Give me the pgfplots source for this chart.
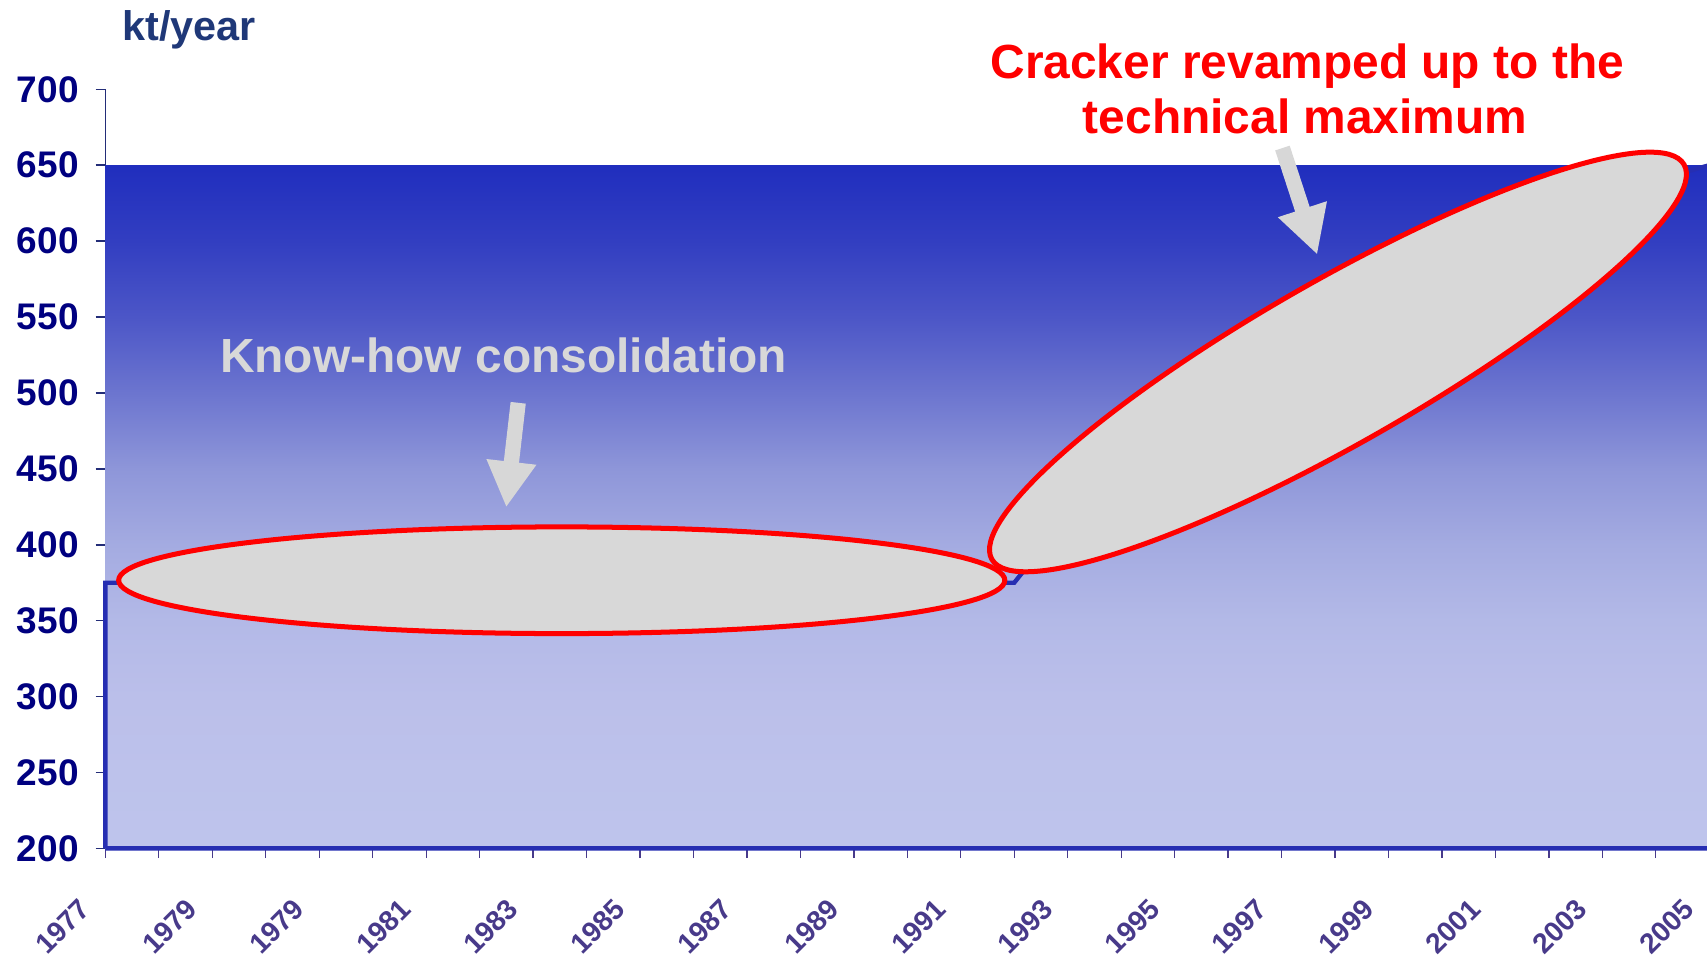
\documentclass[border=0pt]{standalone}
\usepackage{pgfplots}
\pgfplotsset{compat=1.18}
\usepackage{fontspec}
\setmainfont{Liberation Sans}
\usetikzlibrary{arrows.meta}
\definecolor{navyc}{RGB}{0,0,128}
\definecolor{axisc}{RGB}{35,45,120}
\definecolor{unitc}{RGB}{31,56,120}
\definecolor{yearc}{RGB}{72,58,138}
\definecolor{serblue}{RGB}{38,46,178}
\definecolor{ellg}{RGB}{216,216,216}
\definecolor{arrg}{RGB}{215,215,215}
\definecolor{g200}{RGB}{190,196,236}
\definecolor{g250}{RGB}{189,194,235}
\definecolor{g300}{RGB}{187,191,234}
\definecolor{g350}{RGB}{179,185,231}
\definecolor{g400}{RGB}{164,171,225}
\definecolor{g450}{RGB}{142,150,217}
\definecolor{g500}{RGB}{108,117,207}
\definecolor{g550}{RGB}{76,86,199}
\definecolor{g600}{RGB}{50,62,193}
\definecolor{g650}{RGB}{32,46,190}
\pgfdeclareverticalshading{capshade}{100bp}{color(0bp)=(g200); color(25bp)=(g200); color(30.556bp)=(g250); color(36.111bp)=(g300); color(41.667bp)=(g350); color(47.222bp)=(g400); color(52.778bp)=(g450); color(58.333bp)=(g500); color(63.889bp)=(g550); color(69.444bp)=(g600); color(75bp)=(g650); color(100bp)=(g650)}
\begin{document}
\begin{tikzpicture}
\useasboundingbox (0pt,0pt) rectangle (784pt,440pt);
\begin{axis}[
  at={(48.4pt,50.35pt)}, anchor=south west, scale only axis,
  width=736.65pt, height=348.65pt,
  xmin=0, xmax=30, ymin=200, ymax=700,
  clip=false,
  axis x line*=bottom, axis y line*=left,
  axis line style={-},
  x axis line style={draw=yearc, line width=0.6pt},
  y axis line style={draw=axisc, line width=0.8pt},
  tick align=outside,
  xtick={0,1,...,30},
  xticklabels={1977,,1979,,1979,,1981,,1983,,1985,,1987,,1989,,1991,,1993,,1995,,1997,,1999,,2001,,2003,,2005},
  ytick={200,250,...,700},
  major tick length=4.5pt,
  xtick style={draw=yearc, line width=0.6pt},
  ytick style={draw=axisc, line width=0.7pt},
  /pgf/number format/assume math mode=true,
  /pgf/number format/set thousands separator={},
  yticklabel style={font=\fontsize{17}{17}\selectfont\bfseries, text=navyc, anchor=east, inner sep=0pt, xshift=-7.6pt},
  xticklabel style={font=\fontsize{13}{13}\selectfont\bfseries, text=yearc, inner sep=0pt, xshift=-12.5pt, yshift=-17.6pt, rotate=45, anchor=north east},
]
\addplot[draw=none, shading=capshade] coordinates {(0,200) (0,650) (30,650) (30,200)} -- cycle;
\addplot[serblue, line width=2pt] coordinates {
(0,200) (0,375) (1,375) (2,375) (3,375) (4,375) (5,375) (6,375) (7,375) (8,375)
(9,375) (10,375) (11,375) (12,375) (13,375) (14,375) (15,375) (16,375) (17,375)
(18,419) (19,439) (20,459) (21,479) (22,499) (23,519) (24,539) (25,559) (26,580)
(27,600) (28,620) (29,640) (30,650) (30,200) (0,200)};
\end{axis}
% annotations
\draw[red, line width=2.3pt, fill=ellg] (258pt,173.5pt) ellipse [x radius=203.5pt, y radius=24.5pt];
\begin{scope}[shift={(614.5pt,273.75pt)}, rotate=29.7]
\draw[red, line width=2.3pt, fill=ellg] (0pt,0pt) ellipse [x radius=183pt, y radius=37.5pt];
\end{scope}
\draw[arrg, line width=7pt, -{Triangle[width=21.5pt,length=21pt]}] (238pt,255pt) -- (232.5pt,207pt);
\draw[arrg, line width=7pt, -{Triangle[width=22pt,length=22pt]}] (589pt,372pt) -- (605pt,323pt);
\node[anchor=base west, inner sep=0pt, text=unitc, font=\fontsize{19}{19}\selectfont\bfseries] at (56pt,421.6pt) {kt/year};
\node[anchor=base, inner sep=0pt, text=ellg, font=\fontsize{22}{22}\selectfont\bfseries] at (231.25pt,269pt) {Know-how consolidation};
\node[anchor=base, inner sep=0pt, text=red, font=\fontsize{22}{22}\selectfont\bfseries] at (600.4pt,404pt) {Cracker revamped up to the};
\node[anchor=base, inner sep=0pt, text=red, font=\fontsize{22}{22}\selectfont\bfseries] at (599.4pt,378.8pt) {technical maximum};
\end{tikzpicture}
\end{document}
